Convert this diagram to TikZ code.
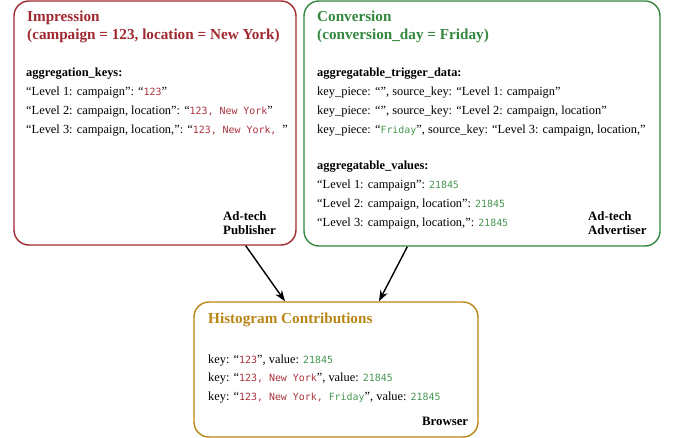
\documentclass[tikz,border=0pt]{standalone}
\usepackage{fontspec}
\setmainfont{Liberation Serif}
\setmonofont[Scale=0.8]{DejaVu Sans Mono}
\usepackage{xcolor}
\usetikzlibrary{arrows.meta,positioning}

\definecolor{impred}{RGB}{160,40,48}
\definecolor{convgreen}{RGB}{52,135,62}
\definecolor{histgold}{RGB}{184,134,20}
\definecolor{keyred}{RGB}{170,50,60}
\definecolor{keygreen}{RGB}{70,150,80}
\newcommand{\redkey}[1]{\textcolor{keyred}{\texttt{#1}}}
\newcommand{\greenkey}[1]{\textcolor{keygreen}{\texttt{#1}}}

\begin{document}
\begin{tikzpicture}[x=1pt, y=-1pt,
    box/.style = {draw, rounded corners=15pt, line width=1.4pt, inner sep=0pt},
    titletext/.style = {anchor=base west, inner sep=0pt, align=left, font=\bfseries\fontsize{15.2}{18}\selectfont},
    bodytext/.style = {anchor=base west, inner sep=0pt, align=left, font=\fontsize{12.4}{19}\selectfont},
    roletext/.style = {anchor=base west, inner sep=0pt, align=left, font=\bfseries\fontsize{12.8}{14}\selectfont},
    flow/.style = {-{Stealth[length=11pt,width=8pt]}, line width=1.4pt}]
    \useasboundingbox (0,0) rectangle (675,438);

    % boxes
    \node[box, draw=impred, minimum width=282pt, minimum height=244pt] (imp) at (155,123) {};
    \node[box, draw=convgreen, minimum width=356pt, minimum height=245pt] (conv) at (482,123.5) {};
    \node[box, draw=histgold, minimum width=284pt, minimum height=135pt] (hist) at (336,369.5) {};

    % impression (base = last line)
    \node[titletext, text=impred] (impt) at (27,40) {Impression\\(campaign = 123, location = New York)};
    \node[bodytext] (impk) at (26,134) {\textbf{aggregation\_keys:}\\
        ``Level 1: campaign'': ``\redkey{123}''\\
        ``Level 2: campaign, location'': ``\redkey{123, New York}''\\
        ``Level 3: campaign, location,'': ``\redkey{123, New York, }''};
    \node[roletext] (impr) at (223,235) {Ad-tech\\Publisher};

    % conversion
    \node[titletext, text=convgreen] (convt) at (317,40) {Conversion\\(conversion\_day = Friday)};
    \node[bodytext] (convd) at (317,134) {\textbf{aggregatable\_trigger\_data:}\\
        key\_piece: ``'', source\_key: ``Level 1: campaign''\\
        key\_piece: ``'', source\_key: ``Level 2: campaign, location''\\
        key\_piece: ``\greenkey{Friday}'', source\_key: ``Level 3: campaign, location,''};
    \node[bodytext] (convv) at (317,227) {\textbf{aggregatable\_values:}\\
        ``Level 1: campaign'': \greenkey{21845}\\
        ``Level 2: campaign, location'': \greenkey{21845}\\
        ``Level 3: campaign, location,'': \greenkey{21845}};
    \node[roletext] (convr) at (588,235) {Ad-tech\\Advertiser};

    % histogram
    \node[titletext, text=histgold] (histt) at (208,324) {Histogram Contributions};
    \node[bodytext, font=\fontsize{12.4}{18.5}\selectfont] (histk) at (208,400) {key: ``\redkey{123}'', value: \greenkey{21845}\\
        key: ``\redkey{123, New York}'', value: \greenkey{21845}\\
        key: ``\redkey{123, New York, }\greenkey{Friday}'', value: \greenkey{21845}};
    \node[roletext] (histr) at (422,425) {Browser};

    \draw[flow] ([xshift=-51pt]imp.south east) -- ([xshift=-51pt]hist.north);
    \draw[flow] ([xshift=104pt]conv.south west) -- ([xshift=43pt]hist.north);
\end{tikzpicture}
\end{document}
